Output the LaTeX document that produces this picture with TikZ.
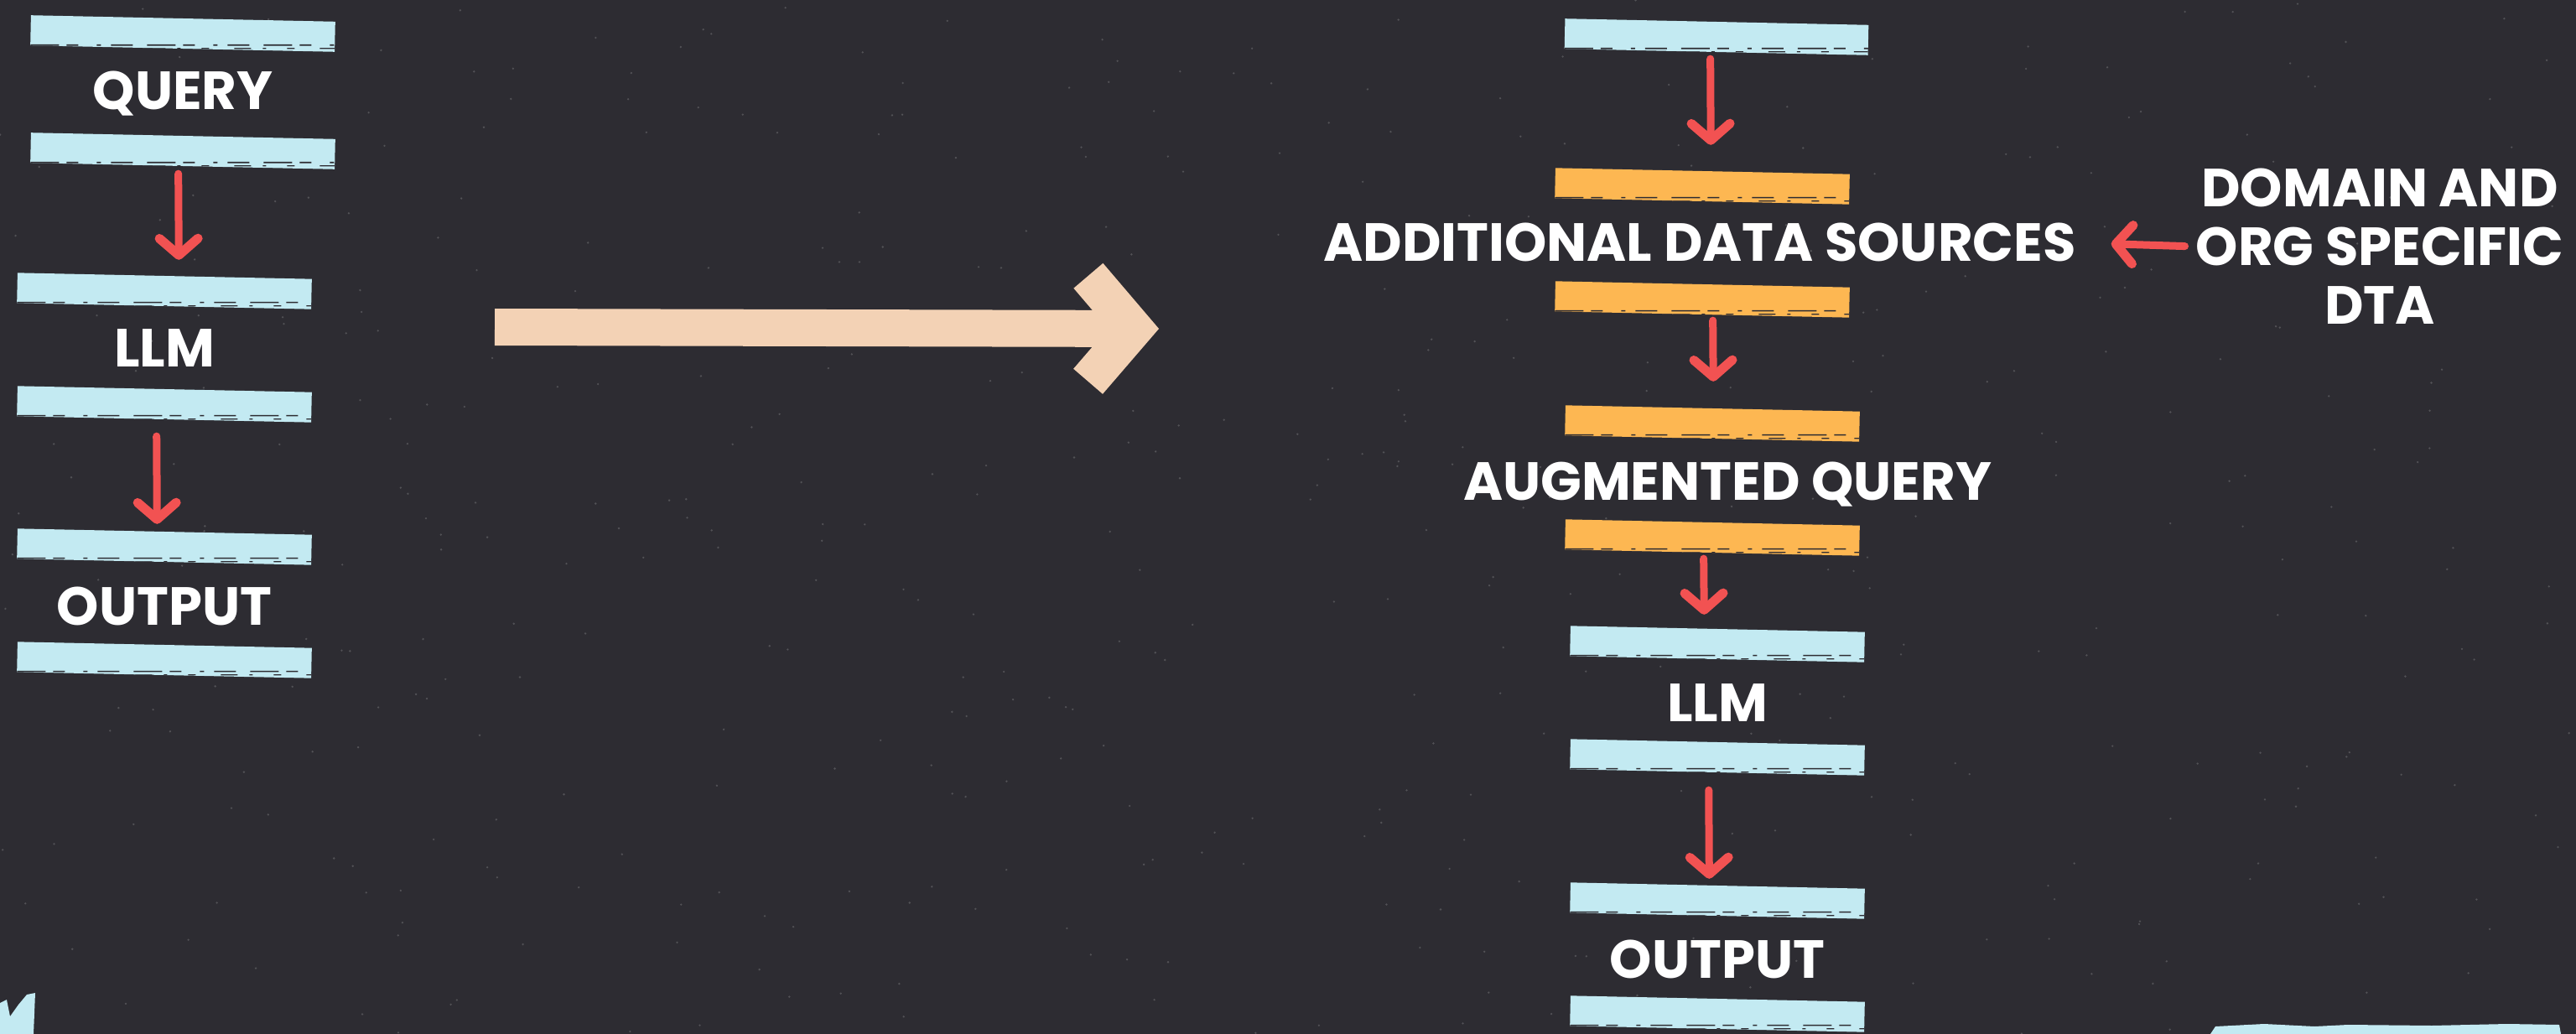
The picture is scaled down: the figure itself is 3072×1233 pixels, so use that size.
\documentclass[tikz,border=0pt]{standalone}
\usepackage{fontspec}
\setmainfont{Poppins}
\usetikzlibrary{arrows.meta}

\definecolor{board}{HTML}{2D2C32}
\definecolor{chalkcyan}{HTML}{C3EAF2}
\definecolor{chalkorange}{HTML}{FDB752}
\definecolor{chalkred}{HTML}{F25252}
\definecolor{chalkpeach}{HTML}{F3D2B5}

\begin{document}
\begin{tikzpicture}[x=1pt, y=-1pt,
		bar/.style={fill=#1, minimum width=351pt, minimum height=36pt, inner sep=0pt, rotate=-1.2,
			path picture={
				\draw[board, line width=1.6pt, dash pattern=on 34pt off 9pt on 14pt off 22pt on 5pt off 12pt on 26pt off 17pt]
					([yshift=8pt]path picture bounding box.south west) -- ([yshift=8pt]path picture bounding box.south east);
				\draw[board, line width=1.2pt, dash pattern=on 9pt off 30pt on 20pt off 14pt on 4pt off 25pt]
					([yshift=4pt]path picture bounding box.south west) -- ([yshift=4pt]path picture bounding box.south east);
			}},
		word/.style={text=white, font=\fontsize{64}{70}\selectfont\bfseries, inner sep=0pt, anchor=base},
		redarrow/.style={chalkred, line width=9pt, line cap=round, -{Straight Barb[length=20pt, width=46pt, line width=11pt, round]}},
		bigarrow/.style={chalkpeach, line width=44pt, -{Straight Barb[length=54pt, width=126pt, line width=46pt]}}]
	
	% board
	\fill[board] (0,0) rectangle (3072,1233);
	\useasboundingbox (0,0) rectangle (3072,1233);
	\pgfmathsetseed{7}
	\foreach \i in {1,...,500}
		\fill[white, opacity=.18] ({3072*rnd},{1233*rnd}) circle (1.3pt);
	
	% plain flow
	\node[bar=chalkcyan, minimum width=363pt] (q1) at (218,40) {};
	\node[word] (query) at (218,131) {QUERY};
	\node[bar=chalkcyan, minimum width=363pt] (q2) at (218,180) {};
	\node[bar=chalkcyan] (l1) at (196,347) {};
	\node[word] (llm) at (196,437) {LLM};
	\node[bar=chalkcyan] (l2) at (196,482) {};
	\node[bar=chalkcyan] (o1) at (196,652) {};
	\node[word] (out) at (196,745) {OUTPUT};
	\node[bar=chalkcyan] (o2) at (196,787) {};
	
	\draw[redarrow, shorten <=9pt, shorten >=19pt] ([xshift=-5pt]q2.south) -- ([xshift=17pt]l1.north);
	\draw[redarrow, shorten <=20pt, shorten >=9pt] ([xshift=-9pt]l2.south) -- ([xshift=-9pt]o1.north);
	
	% big arrow
	\coordinate (bt) at (590,390);
	\coordinate (bh) at (1382,392);
	\draw[bigarrow] (bt) -- (bh);
	
	% rag flow
	\node[bar=chalkcyan, minimum width=362pt] (r0) at (2047,44) {};
	\node[bar=chalkorange] (ad1) at (2030,222) {};
	\node[word] (add) at (2027,312) {ADDITIONAL DATA SOURCES};
	\node[bar=chalkorange] (ad2) at (2030,357) {};
	\node[bar=chalkorange] (ag1) at (2042,505) {};
	\node[word] (aug) at (2060,596) {AUGMENTED QUERY};
	\node[bar=chalkorange] (ag2) at (2042,641) {};
	\node[bar=chalkcyan] (ll1) at (2048,768) {};
	\node[word] (llm2) at (2048,860) {LLM};
	\node[bar=chalkcyan] (ll2) at (2048,903) {};
	\node[bar=chalkcyan] (ou1) at (2048,1074) {};
	\node[word] (out2) at (2048,1166) {OUTPUT};
	\node[bar=chalkcyan] (ou2) at (2048,1209) {};
	
	\node[word, anchor=center, align=center] (dom) at (2838,294) {DOMAIN AND\\ORG SPECIFIC\\DTA};
	
	\draw[redarrow, shorten <=8pt, shorten >=31pt] ([xshift=-7pt]r0.south) -- ([xshift=10pt]ad1.north);
	\draw[redarrow, shorten <=7pt, shorten >=32pt] ([xshift=13pt]ad2.south) -- ([xshift=1pt]ag1.north);
	\draw[redarrow, shorten <=7pt, shorten >=17pt] ([xshift=-10pt]ag2.south) -- ([xshift=-16pt]ll1.north);
	\draw[redarrow, shorten <=21pt, shorten >=8pt] ([xshift=-10pt]ll2.south) -- ([xshift=-10pt]ou1.north);
	\draw[redarrow, shorten <=13pt, shorten >=42pt] (dom.west) -- (add.east);
	
	% chalk scraps at the lower corners
	\fill[chalkcyan] (0,1196) -- (8,1192) -- (12,1212) -- (22,1198) -- (32,1186) -- (42,1184) -- (40,1233) -- (0,1233) -- cycle;
	\fill[chalkcyan] (2636,1233) -- (2642,1224) -- (2700,1221) -- (2760,1224) -- (2800,1222) -- (2900,1223) -- (2990,1221) -- (3052,1222) -- (3054,1233) -- cycle;
\end{tikzpicture}
\end{document}
